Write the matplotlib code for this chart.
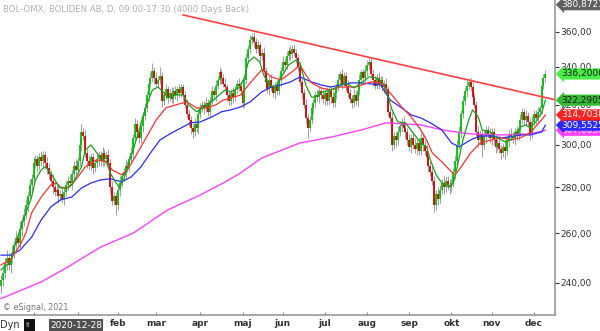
import numpy as np
import pandas as pd
import matplotlib
matplotlib.use("Agg")
import matplotlib.pyplot as plt
from matplotlib.ticker import FixedLocator, NullLocator, NullFormatter
from matplotlib.patches import Rectangle

# daily closes, BOL-OMX
closes = [
    241, 244, 248, 250, 247, 250, 252, 255, 258, 256,
    262, 265, 268, 272, 276, 281, 284, 291, 293, 290,
    294, 292, 295, 291, 289, 286, 283, 280, 278, 279,
    276, 277, 275, 278, 281, 283, 282, 286, 290, 288,
    292, 300, 306, 304, 296, 292, 290, 294, 289, 291,
    293, 295, 292, 296, 293, 295, 291, 280, 274, 276,
    272, 279, 282, 285, 287, 290, 289, 293, 296, 303,
    310, 306, 303, 309, 314, 318, 325, 331, 334, 338,
    334, 331, 333, 335, 322, 325, 328, 324, 326, 323,
    327, 325, 328, 326, 329, 325, 320, 315, 312, 308,
    306, 310, 308, 315, 318, 320, 318, 321, 316, 322,
    327, 325, 330, 333, 337, 334, 331, 329, 325, 322,
    326, 324, 328, 331, 330, 327, 321, 333, 345, 350,
    355, 357, 354, 350, 352, 346, 348, 338, 332, 328,
    333, 329, 326, 330, 327, 333, 338, 343, 341, 346,
    349, 347, 350, 348, 345, 340, 332, 326, 320, 313,
    308, 312, 318, 321, 325, 324, 327, 325, 323, 326,
    322, 327, 324, 321, 326, 329, 333, 336, 331, 335,
    330, 326, 323, 321, 325, 322, 327, 333, 337, 334,
    338, 341, 343, 336, 333, 330, 334, 331, 333, 329,
    331, 328, 316, 313, 300, 304, 302, 306, 309, 311,
    308, 306, 302, 299, 303, 300, 298, 301, 297, 303,
    300, 297, 294, 290, 287, 283, 272, 277, 275, 279,
    282, 280, 283, 281, 280, 282, 287, 292, 300, 306,
    315, 322, 327, 330, 332, 329, 324, 320, 306, 302,
    305, 300, 304, 307, 305, 303, 306, 302, 299, 301,
    298, 296, 299, 297, 302, 305, 304, 303, 306, 304,
    307, 312, 316, 312, 314, 311, 305, 311, 315, 313,
    316, 318, 330, 334, 336.2,
]
first_open = 239

# wick lengths above / below the body
upper_wick = [
    2, 3, 2, 3, 2, 2, 3, 2, 3, 2,  3, 2, 3, 3, 2, 3, 2, 3, 2, 2,
    2, 3, 2, 2, 3, 2, 2, 3, 2, 2,  2, 2, 3, 2, 2, 2, 3, 2, 2, 3,
    2, 3, 4, 2, 3, 2, 3, 2, 2, 2,  3, 2, 2, 3, 2, 2, 3, 2, 3, 2,
    2, 2, 3, 2, 2, 3, 2, 2, 3, 2,  3, 2, 2, 3, 2, 3, 2, 3, 3, 4,
    2, 3, 2, 5, 2, 2, 3, 2, 2, 3,  2, 3, 2, 3, 2, 2, 2, 3, 2, 2,
    2, 3, 2, 2, 3, 2, 2, 3, 2, 2,  3, 2, 3, 2, 3, 2, 2, 3, 2, 2,
    2, 3, 2, 2, 3, 2, 3, 2, 3, 2,  3, 2, 3, 2, 3, 2, 2, 3, 2, 2,
    2, 3, 2, 2, 3, 2, 2, 3, 2, 3,  2, 3, 2, 3, 2, 2, 3, 2, 2, 3,
    2, 2, 3, 2, 2, 3, 2, 2, 3, 2,  3, 2, 2, 3, 2, 2, 3, 2, 3, 2,
    2, 3, 2, 2, 3, 2, 2, 3, 2, 2,  3, 3, 2, 2, 3, 2, 2, 3, 2, 2,
    2, 3, 2, 2, 3, 2, 2, 3, 2, 2,  3, 2, 2, 3, 2, 2, 3, 2, 2, 3,
    2, 2, 3, 2, 2, 3, 2, 2, 3, 2,  2, 3, 2, 2, 3, 2, 2, 3, 2, 3,
    2, 3, 2, 3, 2, 2, 3, 2, 2, 3,  2, 2, 3, 2, 2, 3, 2, 2, 3, 2,
    3, 2, 2, 3, 2, 2, 3, 2, 2, 3,  2, 3, 2, 2, 3, 2, 2, 3, 2, 2,
    3, 2, 3, 2, 2,
]
lower_wick = [
    3, 2, 2, 3, 2, 3, 2, 2, 3, 2,  2, 3, 2, 2, 3, 2, 3, 2, 2, 3,
    2, 2, 3, 2, 3, 2, 2, 3, 2, 2,  3, 2, 2, 3, 2, 2, 2, 3, 2, 2,
    2, 2, 3, 2, 2, 3, 2, 2, 3, 2,  2, 3, 2, 2, 3, 2, 2, 3, 2, 2,
    4, 2, 3, 2, 2, 3, 2, 2, 2, 3,  2, 3, 2, 2, 3, 2, 2, 3, 2, 2,
    3, 2, 2, 2, 3, 2, 2, 3, 2, 2,  2, 2, 3, 2, 2, 3, 2, 2, 3, 3,
    3, 2, 2, 3, 2, 2, 3, 2, 2, 3,  2, 2, 3, 2, 2, 3, 2, 2, 3, 2,
    2, 3, 2, 2, 3, 2, 3, 2, 2, 3,  2, 2, 3, 2, 2, 3, 2, 2, 3, 2,
    3, 2, 2, 3, 2, 2, 3, 2, 2, 2,  2, 3, 2, 2, 3, 2, 2, 3, 2, 3,
    5, 2, 2, 3, 2, 2, 3, 2, 2, 3,  2, 2, 3, 2, 2, 3, 2, 2, 3, 2,
    3, 2, 2, 3, 2, 2, 3, 2, 2, 2,  2, 3, 2, 2, 3, 2, 2, 3, 2, 2,
    3, 2, 2, 3, 3, 2, 3, 2, 2, 3,  2, 3, 2, 2, 3, 2, 2, 3, 2, 2,
    3, 2, 2, 3, 2, 2, 3, 2, 3, 2,  2, 3, 2, 2, 3, 2, 2, 3, 2, 2,
    3, 2, 2, 3, 2, 2, 3, 2, 2, 3,  2, 6, 2, 3, 2, 2, 3, 2, 3, 2,
    2, 3, 2, 4, 2, 3, 2, 2, 3, 2,  2, 3, 2, 2, 3, 2, 3, 2, 2, 3,
    2, 2, 3, 2, 2,
]

# moving averages, sampled (bar index, value)
ma_green_idx = [0, 5, 8, 10, 13, 16, 18, 21, 23, 26, 29, 31, 34, 37, 39, 42, 44, 47, 50, 52,
                55, 57, 60, 62, 64, 66, 69, 71, 74, 77, 79, 82, 85, 87, 91, 95, 98, 102, 104, 108,
                111, 115, 117, 120, 124, 127, 129, 132, 135, 137, 140, 143, 147, 150, 154, 156, 159, 162, 164, 168,
                172, 180, 184, 188, 192, 196, 199, 202, 204, 207, 211, 215, 219, 222, 224, 227, 230, 234, 236, 238,
                241, 244, 246, 249, 251, 255, 258, 261, 263, 266, 269, 271, 274, 276, 279, 282, 284]
ma_green = [245.1, 248.3, 257.2, 261.4, 268.7, 275.7, 283.4, 288.0, 289.4, 286.6, 282.0, 279.7, 279.7, 281.1, 284.3, 289.4, 297.4, 299.8, 296.0, 293.6,
            291.7, 286.6, 282.0, 280.1, 283.4, 289.4, 297.4, 303.8, 313.7, 322.4, 327.6, 329.2, 326.1, 323.4, 325.0, 325.0, 319.8, 316.3, 317.3, 319.8,
            322.4, 326.1, 327.6, 326.6, 328.7, 334.1, 342.8, 345.5, 342.8, 335.7, 330.3, 329.2, 335.7, 341.1, 343.9, 342.2, 330.3, 323.9, 323.9, 326.6,
            327.6, 331.4, 328.7, 331.4, 334.6, 334.1, 331.9, 323.9, 317.3, 311.2, 310.7, 305.7, 300.8, 298.9, 292.7, 285.7, 282.0, 280.1, 282.0, 289.4,
            302.3, 312.2, 317.3, 313.7, 307.2, 306.2, 303.8, 302.3, 301.3, 302.3, 306.2, 308.7, 309.7, 308.2, 311.2, 315.7, 322.29]

ma_red_idx = [0, 5, 10, 13, 16, 21, 26, 29, 31, 35, 39, 44, 50, 55, 58, 63, 66, 70, 76, 81,
              86, 91, 97, 102, 107, 112, 116, 120, 125, 130, 136, 138, 141, 146, 151, 156, 159, 162, 167, 172,
              177, 185, 193, 198, 203, 209, 214, 219, 222, 225, 230, 235, 237, 240, 245, 250, 256, 261, 266, 271,
              276, 282, 284]
ma_red = [247.1, 249.1, 255.1, 260.1, 268.7, 275.7, 281.1, 282.0, 280.1, 279.7, 283.4, 289.4, 292.7, 291.7, 288.0, 285.7, 288.0, 294.1, 303.8, 312.2,
          318.3, 319.8, 321.4, 318.3, 318.3, 319.8, 322.4, 323.4, 325.0, 331.4, 338.4, 337.3, 334.6, 333.0, 336.7, 341.1, 335.7, 331.4, 328.7, 327.6,
          329.2, 329.2, 331.9, 331.4, 326.1, 318.8, 313.7, 307.2, 302.3, 296.0, 291.7, 287.1, 285.7, 289.4, 296.0, 300.8, 302.3, 303.3, 302.3, 303.3,
          305.7, 312.2, 314.70]

ma_blue_idx = [0, 5, 10, 16, 21, 26, 31, 37, 42, 47, 52, 57, 63, 68, 73, 78, 83, 89, 94, 99,
               104, 110, 115, 120, 125, 130, 136, 141, 146, 151, 156, 162, 167, 172, 177, 183, 188, 198, 203, 209,
               214, 219, 224, 230, 235, 239, 245, 250, 256, 261, 266, 271, 276, 282, 284]
ma_blue = [251.0, 251.0, 253.1, 258.4, 265.7, 271.3, 274.4, 275.7, 279.7, 282.0, 283.4, 283.9, 282.5, 284.8, 289.4, 296.0, 302.3, 305.7, 308.2, 310.7,
           311.2, 313.7, 316.3, 317.3, 318.8, 321.4, 326.6, 329.2, 330.3, 331.9, 334.6, 331.9, 330.3, 329.2, 330.3, 331.4, 331.4, 330.3, 322.4, 318.3,
           314.7, 313.2, 310.7, 307.2, 300.8, 298.9, 302.3, 304.2, 304.2, 303.3, 303.8, 304.7, 304.7, 306.2, 309.55]

ma_magenta_idx = [0, 21, 35, 52, 69, 87, 104, 116, 125, 136, 156, 173, 188, 201, 209, 219, 230, 245, 261, 276, 284]
ma_magenta = [234.0, 240.4, 246.3, 254.3, 260.1, 270.0, 276.6, 282.0, 286.6, 293.6, 300.8, 303.8, 307.2, 310.7, 310.2, 309.7, 307.2, 305.2, 304.7, 305.2, 307.0]

# trend line through the highs
trend_idx = [95, 289.5]
trend_val = [369.8, 322.4]

y_ticks = [240, 260, 280, 300, 320, 340, 360]
month_names = ["", "", "feb", "mar", "apr", "maj", "jun", "jul", "aug", "sep", "okt", "nov", "dec"]

dates = pd.bdate_range("2020-11-06", periods=len(closes))
n = len(closes)
idx = np.arange(n)
c = np.array(closes, dtype=float)
o = np.concatenate([[first_open], c[:-1]])
top = np.maximum(o, c)
bot = np.minimum(o, c)
hi = top + np.array(upper_wick)
lo = bot - np.array(lower_wick)
bot_b = np.where(top - bot < 0.4, top - 0.4, bot)
cols = np.where(c >= o, "#00c400", "#d40000")

fig = plt.figure(figsize=(6, 3.31), dpi=100)
ax = fig.add_axes([0, 16 / 331, 555 / 600, 315 / 331])
ax.set_yscale("log")

ax.vlines(idx, lo, hi, colors="#a0a0a0", linewidth=0.7, zorder=2)
ax.vlines(idx, bot_b, top, colors=cols, linewidth=1.3, zorder=3)

ax.plot(ma_magenta_idx, ma_magenta, color="#ff40ff", lw=1.0, zorder=4)
ax.plot(ma_blue_idx, ma_blue, color="#2a2aff", lw=0.9, zorder=4)
ax.plot(ma_red_idx, ma_red, color="#ff3030", lw=0.9, zorder=4)
ax.plot(ma_green_idx, ma_green, color="#1e9e1e", lw=0.9, zorder=4)
ax.plot(trend_idx, trend_val, color="#ff4040", lw=1.2, zorder=5)

ax.set_xlim(-0.5, 289.0)
ax.set_ylim(227.9, 378.8)

# y axis on the right
ax.yaxis.tick_right()
ax.yaxis.set_major_locator(FixedLocator(y_ticks))
ax.yaxis.set_minor_locator(NullLocator())
ax.yaxis.set_minor_formatter(NullFormatter())
ax.set_yticklabels([f"{v:.2f}".replace(".", ",") for v in y_ticks])
ax.tick_params(axis="y", direction="out", length=3, pad=1, labelsize=6.5,
               colors="#333333", width=0.8)

# month ticks
month_start = [i for i in range(1, n) if dates[i].month != dates[i - 1].month]
ax.set_xticks(month_start)
ax.set_xticklabels(month_names[:len(month_start)], fontsize=6.5, fontweight="bold",
                   color="#333333")
ax.tick_params(axis="x", direction="in", length=2, pad=3, colors="#888888",
               labelcolor="#333333")

for s in ["top", "left"]:
    ax.spines[s].set_visible(False)
for s in ["right", "bottom"]:
    ax.spines[s].set_color("#999999")
    ax.spines[s].set_linewidth(1.2)

# last value boxes
boxes = [
    (307.0054, "307,0054", "#ff40ff", "white"),
    (309.5525, "309,5525", "#2a2aff", "white"),
    (314.7038, "314,7038", "#ff2020", "white"),
    (322.2905, "322,2905", "#33bb33", "#1a1a1a"),
    (336.2000, "336,2000", "#44ee44", "#1a1a1a"),
]
tr = ax.get_yaxis_transform()
for val, txt, bg, fg in boxes:
    ax.text(1.012, val, txt, transform=tr, fontsize=6.5, color=fg, va="center",
            ha="left", bbox=dict(boxstyle="larrow,pad=0.12", fc=bg, ec="none"),
            zorder=10)
ax.text(1.012, 0.985, "380,8721", transform=ax.transAxes, fontsize=6.5, color="white",
        va="center", ha="left", bbox=dict(boxstyle="larrow,pad=0.12", fc="#606060", ec="none"))

fig.text(3 / 600, 1 - 9 / 331, "BOL-OMX, BOLIDEN AB, D, 09:00-17:30 (4000 Days Back)",
         fontsize=6.1, color="#b0b0b0", va="center")
fig.text(3 / 600, 1 - 307 / 331, "© eSignal, 2021", fontsize=5.8, color="#777777", va="center")

# bottom strip
fig.text(0, 1 - 325 / 331, "Dyn", fontsize=7, color="#333333", va="center")
fig.patches.append(Rectangle((24 / 600, 1 - 333 / 331), 11 / 600, 14 / 331,
                             transform=fig.transFigure, fc="#111111", ec="none"))
fig.text(26 / 600, 1 - 325 / 331, "fı", fontsize=5, color="#aaaaaa", va="center")
fig.text(50 / 600, 1 - 325 / 331, "2020-12-28", fontsize=6.5, color="white", va="center",
         bbox=dict(boxstyle="square,pad=0.15", fc="#505050", ec="none"))

fig.savefig("out.png", dpi=100)
